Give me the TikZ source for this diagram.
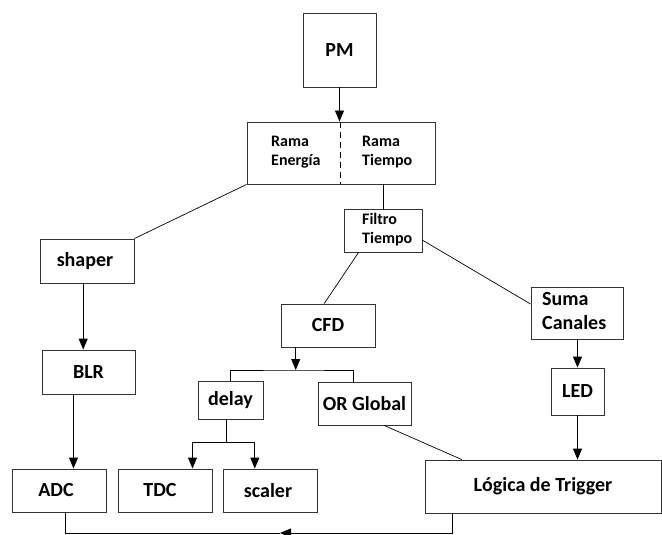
\documentclass[tikz,border=0pt]{standalone}
\usepackage{fontspec}
\setmainfont{Carlito}
\usetikzlibrary{arrows.meta,calc}
\begin{document}
\begin{tikzpicture}[x=1pt,y=-1pt,
  box/.style={draw=black!80,line width=0.9pt,inner sep=0pt,
    font=\fontsize{20}{24}\selectfont\bfseries},
  lbl/.style={inner sep=0pt,align=left},
  wire/.style={draw=black,line width=0.9pt},
  arr/.style={wire,-{Triangle[length=11pt,width=9pt]}},
  thin/.style={draw=black,line width=0.7pt}]
\useasboundingbox (0,0) rectangle (662,535);
% boxes
\node[box,minimum width=73pt,minimum height=74pt] (pm) at (339.5,50) {PM};
\node[box,minimum width=188pt,minimum height=62pt] (rama) at (341,153) {};
\node[box,minimum width=78pt,minimum height=43pt] (filtro) at (383,230.5) {};
\node[box,minimum width=94pt,minimum height=44pt] (shaper) at (87,261) {\hspace*{-4pt}shaper};
\node[box,minimum width=93pt,minimum height=44pt] (blr) at (88.5,372) {BLR};
\node[box,minimum width=94pt,minimum height=43pt] (adc) at (59,490.5) {\hspace*{-6pt}ADC};
\node[box,minimum width=94pt,minimum height=43pt] (tdc) at (165,490.5) {\hspace*{-10pt}TDC};
\node[box,minimum width=94pt,minimum height=43pt] (scaler) at (270,490.5) {\hspace*{-4pt}scaler};
\node[box,minimum width=236pt,minimum height=53pt] (logica) at (543,486.5) {Lógica de Trigger};
\node[box,minimum width=94pt,minimum height=43pt] (cfd) at (328,325.5) {CFD};
\node[box,minimum width=65pt,minimum height=38pt] (delay) at (230.5,400) {delay};
\node[box,minimum width=93pt,minimum height=43pt] (orglobal) at (364.5,403.5) {OR Global};
\node[box,minimum width=92pt,minimum height=52pt] (suma) at (577,313) {};
\node[box,minimum width=53pt,minimum height=47pt] (led) at (577.5,391.5) {LED};
% texts inside split boxes
\node[lbl,anchor=west,font=\fontsize{16}{19}\selectfont\bfseries] (ramaE) at (271,152) {Rama\\Energía};
\node[lbl,anchor=west,font=\fontsize{16}{19}\selectfont\bfseries] (ramaT) at (362,152) {Rama\\Tiempo};
\node[lbl,anchor=west,font=\fontsize{16}{19}\selectfont\bfseries] (filtroT) at (362,230) {Filtro\\Tiempo};
\node[lbl,anchor=west,font=\fontsize{20}{24}\selectfont\bfseries] (sumaT) at (542,311) {Suma\\Canales};
\draw[wire,dash pattern=on 6pt off 4pt] ($(rama.north)+(-1,0)$) -- ($(rama.south)+(-1,0)$);
% connectors
\draw[arr] (pm.south) -- (pm.south |- rama.north);
\draw[thin] (rama.south west) -- (shaper.north east);
\draw[wire] (rama.south -| filtro.north) -- (filtro.north);
\draw[thin] ($(filtro.south west)!0.19!(filtro.south east)$) -- ($(cfd.north west)!0.46!(cfd.north east)$);
\draw[thin] ($(filtro.north east)!0.72!(filtro.south east)$) -- ($(suma.north west)!0.33!(suma.south west)$);
\coordinate (shX) at ($(shaper.south west)!0.46!(shaper.south east)$);
\draw[arr] (shX) -- (shX |- blr.north);
\coordinate (blX) at ($(blr.south west)!0.34!(blr.south east)$);
\draw[arr] (blX) -- (blX |- adc.north);
\coordinate (cfX) at ($(cfd.south west)!0.16!(cfd.south east)$);
\coordinate (cs) at (cfX |- 0,370);
\draw[arr] (cfX) -- (cs);
\coordinate (ogX) at ($(orglobal.north west)!0.38!(orglobal.north east)$);
\draw[wire] (delay.north) |- (cs) -| (ogX);
\coordinate (ds) at (226,442);
\draw[wire] (delay.south -| ds) -- (ds);
\coordinate (tdX) at ($(tdc.north west)!0.79!(tdc.north east)$);
\coordinate (scX) at ($(scaler.north west)!0.34!(scaler.north east)$);
\draw[arr] (ds) -| (tdX);
\draw[arr] (ds) -| (scX);
\draw[thin] ($(orglobal.south west)!0.71!(orglobal.south east)$) -- ($(logica.north west)!0.157!(logica.north east)$);
\draw[arr] (led.north |- suma.south) -- (led.north);
\draw[arr] (led.south) -- (led.south |- logica.north);
\coordinate (lgX) at ($(logica.south west)!0.119!(logica.south east)$);
\coordinate (bm) at (280,533);
\coordinate (adX) at ($(adc.south west)!0.564!(adc.south east)$);
\draw[arr] (lgX) |- (bm);
\draw[wire] (bm) -| (adX);
\draw[wire] ($(tdc.south west)!0.48!(tdc.south east)$) -- ($(tdc.south west)!0.48!(tdc.south east)$ |- bm);
\end{tikzpicture}
\end{document}
